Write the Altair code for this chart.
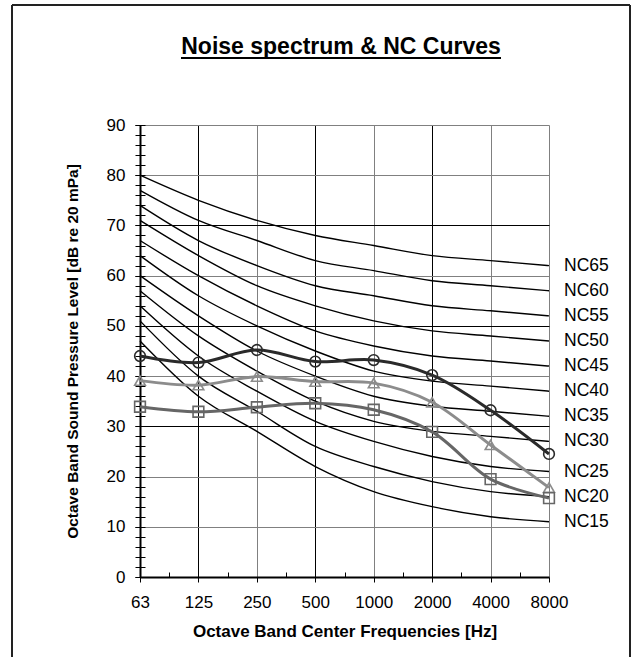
import json
import altair as alt
import pandas as pd

FONT = "Liberation Sans"

# ---------------- data ----------------
FREQS = ["63", "125", "250", "500", "1000", "2000", "4000", "8000"]

NC_NAMES = ["NC15", "NC20", "NC25", "NC30", "NC35", "NC40", "NC45", "NC50", "NC55", "NC60", "NC65"]
NC15 = [47, 36, 29, 22, 17, 14, 12, 11]
NC20 = [51, 40, 33, 26, 22, 19, 17, 16]
NC25 = [54, 44, 37, 31, 27, 24, 22, 21]
NC30 = [57, 48, 41, 35, 31, 29, 28, 27]
NC35 = [60, 52, 45, 40, 36, 34, 33, 32]
NC40 = [64, 56, 50, 45, 41, 39, 38, 37]
NC45 = [67, 60, 54, 49, 46, 44, 43, 42]
NC50 = [71, 64, 58, 54, 51, 49, 48, 47]
NC55 = [74, 67, 62, 58, 56, 54, 53, 52]
NC60 = [77, 71, 67, 63, 61, 59, 58, 57]
NC65 = [80, 75, 71, 68, 66, 64, 63, 62]
NC_CURVES = [NC15, NC20, NC25, NC30, NC35, NC40, NC45, NC50, NC55, NC60, NC65]

SERIES = ["Spectrum 1", "Spectrum 2", "Spectrum 3"]
SPECTRUM_1 = [44.0, 42.7, 45.2, 42.9, 43.2, 40.2, 33.2, 24.5]
SPECTRUM_2 = [39.1, 38.2, 39.9, 38.9, 38.6, 34.8, 26.3, 17.8]
SPECTRUM_3 = [33.9, 32.9, 33.8, 34.6, 33.3, 28.9, 19.5, 15.7]
SPECTRA = [SPECTRUM_1, SPECTRUM_2, SPECTRUM_3]

TITLE = "Noise spectrum & NC Curves"
X_TITLE = "Octave Band Center Frequencies [Hz]"
Y_TITLE = "Octave Band Sound Pressure Level [dB re 20 mPa]"

# ---------------- tables ----------------
nc_rows = []
for name, vals in zip(NC_NAMES, NC_CURVES):
    for i, v in enumerate(vals):
        nc_rows.append({"curve": name, "band": i, "freq": FREQS[i], "level": v})
nc_df = pd.DataFrame(nc_rows)

label_df = pd.DataFrame({
    "curve": NC_NAMES,
    "band": [len(FREQS) - 1] * len(NC_NAMES),
    "level": [vals[-1] for vals in NC_CURVES],
})

sp_rows = []
for name, vals in zip(SERIES, SPECTRA):
    for i, v in enumerate(vals):
        sp_rows.append({"series": name, "band": i, "freq": FREQS[i], "level": v})
sp_df = pd.DataFrame(sp_rows)

one = pd.DataFrame({"k": [0]})

# ---------------- scales / axes ----------------
xs = alt.Scale(domain=[0, len(FREQS) - 1], nice=False, zero=False)
ys = alt.Scale(domain=[0, 90], nice=False)

label_expr = json.dumps(FREQS) + "[datum.value]"

x_axis = alt.Axis(
    orient="bottom", values=list(range(len(FREQS))), labelExpr=label_expr,
    title=X_TITLE, grid=True,
    gridColor={"condition": {"test": "datum.value == 1 || datum.value == 3 || datum.value == 5",
                             "value": "#000000"}, "value": "#808080"},
    gridWidth=1, domainColor="#000000", domainWidth=2,
    tickColor="#000000", tickSize=5, tickWidth=1,
    labelFont=FONT, labelFontSize=17, labelColor="#000000", labelPadding=12,
    labelFlush=False, labelOverlap=False,
    titleFont=FONT, titleFontSize=17, titleFontWeight="bold", titleColor="#000000",
    titlePadding=13,
)
y_axis = alt.Axis(
    orient="left", values=list(range(0, 91, 10)), title=Y_TITLE, grid=True,
    gridColor={"condition": {"test": "datum.value == 30 || datum.value == 50 || datum.value == 70",
                             "value": "#000000"}, "value": "#808080"},
    gridWidth=1, domainColor="#000000", domainWidth=2,
    tickColor="#000000", tickSize=5, tickWidth=1,
    labelFont=FONT, labelFontSize=17, labelColor="#000000", labelPadding=10,
    labelFlush=False, labelOverlap=False,
    titleFont=FONT, titleFontSize=15.5, titleFontWeight="bold", titleColor="#000000",
    titlePadding=26,
)

# ---------------- layers ----------------
nc_lines = alt.Chart(nc_df).mark_line(color="#000000", strokeWidth=1.4, interpolate="monotone").encode(
    x=alt.X("band:Q", scale=xs, axis=x_axis),
    y=alt.Y("level:Q", scale=ys, axis=y_axis),
    detail="curve:N",
)

minor_y = alt.Chart(nc_df).mark_point(opacity=0).encode(
    x=alt.X("band:Q", scale=xs, axis=None),
    y=alt.Y("level:Q", scale=ys, axis=alt.Axis(
        orient="left", values=list(range(0, 91, 2)), tickSize=10, offset=-5,
        labels=False, domain=False, grid=False, title=None,
        tickColor="#000000", tickWidth=1)),
)

minor_x = alt.Chart(nc_df).mark_point(opacity=0).encode(
    x=alt.X("band:Q", scale=xs, axis=alt.Axis(
        orient="bottom", values=[i + 0.5 for i in range(len(FREQS) - 1)], tickSize=5, offset=-5,
        labels=False, domain=False, grid=False, title=None,
        tickColor="#000000", tickWidth=1)),
    y=alt.Y("level:Q", scale=ys, axis=None),
)

color_scale = alt.Scale(domain=SERIES, range=["#2a2a2a", "#8c8c8c", "#666666"])
shape_scale = alt.Scale(domain=SERIES, range=["circle", "triangle-up", "square"])

sp_lines = alt.Chart(sp_df).mark_line(strokeWidth=3, interpolate="catmull-rom").encode(
    x=alt.X("band:Q", scale=xs, axis=None),
    y=alt.Y("level:Q", scale=ys, axis=None),
    color=alt.Color("series:N", scale=color_scale, legend=None),
)

sp_points = alt.Chart(sp_df).mark_point(filled=False, size=115, strokeWidth=1.6, opacity=1).encode(
    x=alt.X("band:Q", scale=xs, axis=None),
    y=alt.Y("level:Q", scale=ys, axis=None),
    color=alt.Color("series:N", scale=color_scale, legend=None),
    shape=alt.Shape("series:N", scale=shape_scale, legend=None),
)

nc_labels = alt.Chart(label_df).mark_text(
    align="left", baseline="middle", dx=15, font=FONT, fontSize=17.5, color="#000000"
).encode(
    x=alt.X("band:Q", scale=xs, axis=None),
    y=alt.Y("level:Q", scale=ys, axis=None),
    text="curve:N",
)

# decorations: outer frame, title, title underline
BORDER = "#222222"
frame_left = alt.Chart(one).mark_rule(color=BORDER, strokeWidth=2).encode(
    x=alt.value(-128), y=alt.value(-120), y2=alt.value(532))
frame_top = alt.Chart(one).mark_rule(color=BORDER, strokeWidth=2).encode(
    x=alt.value(-128), x2=alt.value(490), y=alt.value(-120))
frame_right = alt.Chart(one).mark_rule(color=BORDER, strokeWidth=2).encode(
    x=alt.value(490), y=alt.value(-120), y2=alt.value(532))

title_text = alt.Chart(one).mark_text(
    text=TITLE, font=FONT, fontSize=23, fontWeight="bold", align="center",
    baseline="alphabetic", color="#000000"
).encode(x=alt.value(201), y=alt.value(-71))
title_line = alt.Chart(one).mark_rule(color="#000000", strokeWidth=2).encode(
    x=alt.value(41), x2=alt.value(361), y=alt.value(-67))

chart = alt.layer(
    nc_lines, minor_y, minor_x, sp_lines, sp_points, nc_labels,
    frame_left, frame_top, frame_right, title_text, title_line,
).resolve_axis(
    x="independent", y="independent"
).properties(
    width=409, height=452,
    padding={"left": 11, "top": 4, "right": 1, "bottom": 0},
    background="white",
).configure_view(stroke=None)

chart.save("out.html", embed_options={"renderer": "svg", "actions": False})
